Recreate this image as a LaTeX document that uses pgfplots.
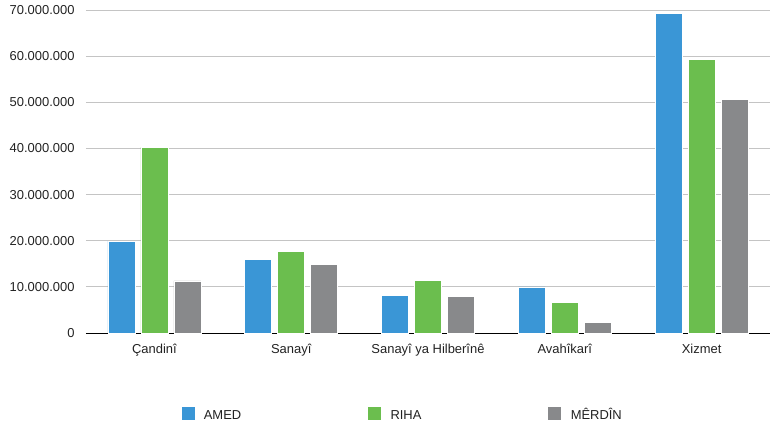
\documentclass[border=0pt]{standalone}
\usepackage{pgfplots}
\pgfplotsset{compat=1.18}
\usepackage{fontspec}
\setmainfont{Liberation Sans}
\definecolor{amed}{HTML}{3A96D6}
\definecolor{riha}{HTML}{6BBE4E}
\definecolor{merdin}{HTML}{88898B}
\definecolor{gridc}{HTML}{C4C4C4}
\definecolor{txt}{HTML}{222222}
\begin{document}
\begin{tikzpicture}
\begin{axis}[
  at={(0,0)}, anchor=south west,
  scale only axis, width=684bp, height=323bp,
  ybar=6bp, bar width=27bp,
  xmin=-0.5, xmax=4.5, ymin=0, ymax=70000000,
  xtick=data,
  xticklabels={Çandinî,Sanayî,Sanayî ya Hilberînê,Avahîkarî,Xizmet},
  ytick={0,10000000,...,70000000},
  scaled y ticks=false,
  /pgf/number format/.cd, fixed, 1000 sep={.}, assume math mode=true,
  /pgfplots/.cd,
  major tick length=0pt,
  axis y line*=left, axis x line*=bottom,
  y axis line style={draw=none},
  x axis line style={black, line width=1pt},
  ymajorgrids, grid style={gridc, line width=0.8pt},
  tick label style={font=\fontsize{13}{15}\selectfont, text=txt},
  yticklabel style={xshift=-8bp},
  xticklabel style={yshift=-6bp, text height=11bp, text depth=3bp},
  legend columns=3,
  legend style={at={(0.463,-0.251)}, anchor=center, draw=none,
    font=\fontsize{13}{15}\selectfont, text=txt,
    nodes={text height=12bp, text depth=2bp},
    /tikz/every even column/.append style={column sep=125bp}},
  legend image code/.code={\fill[draw=none] (0bp,-5.5bp) rectangle (13bp,7.5bp);
    \path (20bp,0bp);},
]
\addplot[fill=amed, draw=white, line width=0.6pt] coordinates {(0,19900000) (1,16000000) (2,8200000) (3,10000000) (4,69200000)};
\addplot[fill=riha, draw=white, line width=0.6pt] coordinates {(0,40300000) (1,17600000) (2,11400000) (3,6600000) (4,59300000)};
\addplot[fill=merdin, draw=white, line width=0.6pt] coordinates {(0,11300000) (1,14800000) (2,8000000) (3,2300000) (4,50700000)};
\legend{AMED,RIHA,MÊRDÎN}
\end{axis}
\pgfresetboundingbox
\path (-86bp,-94bp) rectangle (684bp,333bp);
\end{tikzpicture}
\end{document}
